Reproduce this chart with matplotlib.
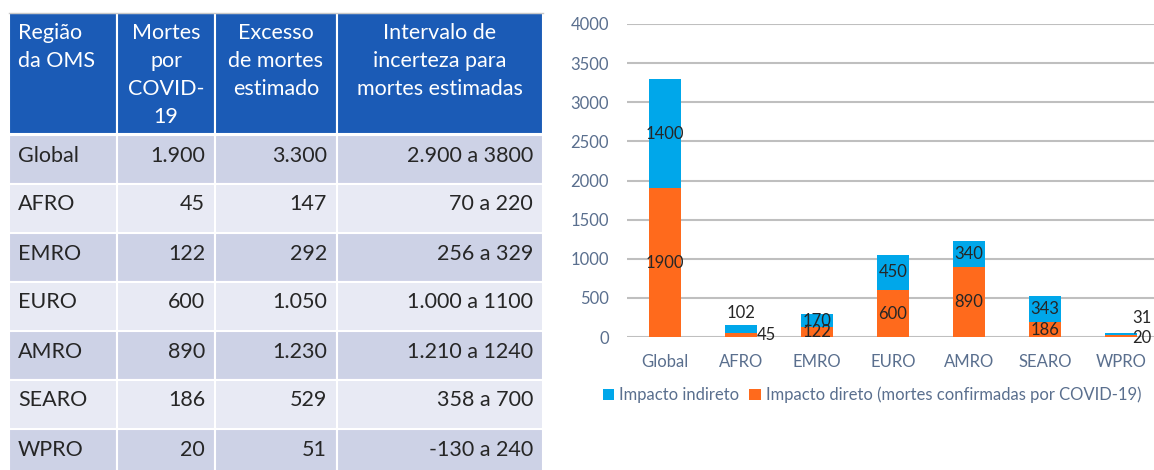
import matplotlib.pyplot as plt
from matplotlib import patches

plt.rcParams["font.family"] = ["Lato", "DejaVu Sans"]

# table data
headers = [["Região", "da OMS"], ["Mortes", "por", "COVID-", "19"],
           ["Excesso", "de mortes", "estimado"],
           ["Intervalo de", "incerteza para", "mortes estimadas"]]
regions = ["Global", "AFRO", "EMRO", "EURO", "AMRO", "SEARO", "WPRO"]
covid_deaths = ["1.900", "45", "122", "600", "890", "186", "20"]
excess_deaths = ["3.300", "147", "292", "1.050", "1.230", "529", "51"]
intervals = ["2.900 a 3800", "70 a 220", "256 a 329", "1.000 a 1100",
             "1.210 a 1240", "358 a 700", "-130 a 240"]

# chart data
direct = [1900, 45, 122, 600, 890, 186, 20]
indirect = [1400, 102, 170, 450, 340, 343, 31]

W, H = 1154, 470
fig = plt.figure(figsize=(W / 100, H / 100), dpi=100)

# ---- table (pixel coordinates) ----
tax = fig.add_axes([0, 0, 1, 1])
tax.set_xlim(0, W)
tax.set_ylim(H, 0)
tax.axis("off")

col_x = [9, 117, 215, 337, 543]
head_top, head_bot = 13, 134
row_h = 49
blue = "#1B5BB6"
dark_row = "#CDD2E6"
light_row = "#E8EAF4"
txt = "#262626"
fs_tab = 15.5

for c in range(4):
    tax.add_patch(patches.Rectangle((col_x[c], head_top), col_x[c + 1] - col_x[c],
                                    head_bot - head_top, facecolor=blue,
                                    edgecolor="white", lw=1.5))
    for i, line in enumerate(headers[c]):
        if c == 0:
            tax.text(col_x[c] + 9, 33 + 28 * i, line, color="white", fontsize=fs_tab,
                     ha="left", va="center")
        else:
            tax.text((col_x[c] + col_x[c + 1]) / 2, 33 + 28 * i, line, color="white",
                     fontsize=fs_tab, ha="center", va="center")
tax.plot([col_x[0], col_x[-1]], [head_top, head_top], color="#C8C8C8", lw=1)

for r in range(len(regions)):
    y0 = head_bot + 1 + r * row_h
    fc = dark_row if r % 2 == 0 else light_row
    for c in range(4):
        tax.add_patch(patches.Rectangle((col_x[c], y0), col_x[c + 1] - col_x[c], row_h,
                                        facecolor=fc, edgecolor="white", lw=1.5))
    ym = y0 + row_h / 2 - 4
    tax.text(col_x[0] + 9, ym, regions[r], color=txt, fontsize=fs_tab, ha="left", va="center")
    tax.text(col_x[2] - 10, ym, covid_deaths[r], color=txt, fontsize=fs_tab, ha="right", va="center")
    tax.text(col_x[3] - 10, ym, excess_deaths[r], color=txt, fontsize=fs_tab, ha="right", va="center")
    tax.text(col_x[4] - 10, ym, intervals[r], color=txt, fontsize=fs_tab, ha="right", va="center")

# ---- stacked bar chart ----
ax = fig.add_axes([627 / W, (H - 337) / H, 532 / W, 313 / H])
ax.set_xlim(-0.5, 6.5)
ax.set_ylim(0, 4000)
x = range(len(regions))
c_blue = "#00A7EA"
c_orange = "#FF6A1C"
bw = 0.41
b1 = ax.bar(x, direct, bw, color=c_orange, label="Impacto direto (mortes confirmadas por COVID-19)", zorder=3)
b2 = ax.bar(x, indirect, bw, bottom=direct, color=c_blue, label="Impacto indireto", zorder=3)

ax.set_yticks(range(0, 4001, 500))
ax.yaxis.grid(True, color="#BFBFBF", lw=1.5)
ax.set_axisbelow(True)
for s in ax.spines.values():
    s.set_visible(False)
tick_col = "#5A6F8E"
ax.tick_params(axis="both", length=0, labelsize=12, colors=tick_col)
ax.tick_params(axis="y", pad=13)
ax.tick_params(axis="x", pad=12)
ax.set_xticks(list(x))
ax.set_xticklabels(regions)

lab_kw = dict(fontsize=12, color=txt, ha="center", va="center", zorder=4)
for i in x:
    d, ind = direct[i], indirect[i]
    if regions[i] == "AFRO":
        ax.annotate(str(ind), (i, d + ind), xytext=(0, 9), textcoords="offset points", **lab_kw)
        ax.annotate(str(d), (i, d / 2), xytext=(18, 0), textcoords="offset points", **lab_kw)
    elif regions[i] == "WPRO":
        ax.annotate(str(ind), (i, d + ind), xytext=(15, 11), textcoords="offset points", **lab_kw)
        ax.annotate(str(d), (i, d / 2), xytext=(15, -1), textcoords="offset points", **lab_kw)
    else:
        ax.text(i, d / 2, str(d), **lab_kw)
        ax.text(i, d + ind / 2, str(ind), **lab_kw)

handles = [b2, b1]
leg = fig.legend(handles, [h.get_label() for h in handles], loc="center",
                 bbox_to_anchor=(872 / W, (H - 395) / H), ncol=2, frameon=False,
                 fontsize=12, handlelength=0.7, handleheight=0.7, handletextpad=0.3,
                 columnspacing=0.6, labelcolor=tick_col)

fig.savefig("out.png", dpi=100)
